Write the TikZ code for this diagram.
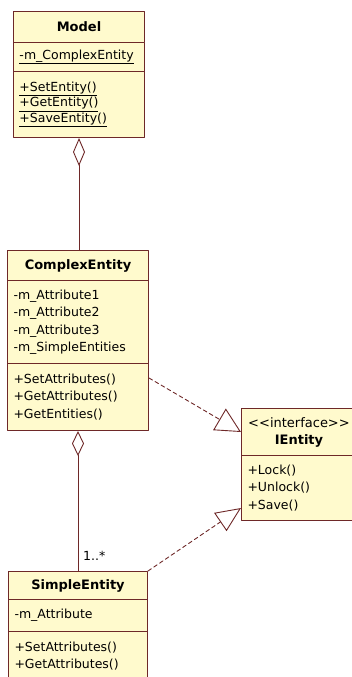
\documentclass[tikz,border=0pt]{standalone}
\usepackage{fontspec}
\setmainfont{DejaVu Sans}
\usetikzlibrary{arrows.meta}
\definecolor{umlfill}{RGB}{255,250,205}
\definecolor{umlline}{RGB}{110,40,40}

\begin{document}
\begin{tikzpicture}[x=1pt,y=-1pt,line cap=round,line join=round,
  box/.style={draw=umlline,fill=umlfill,line width=1pt,anchor=north west,inner ysep=0pt,inner xsep=6pt},
  title/.style={box,align=center,font=\fontsize{13}{17}\selectfont\bfseries},
  member/.style={box,align=left,font=\fontsize{12.5}{17.5}\selectfont},
  link/.style={draw=umlline,line width=0.9pt},
  dashlink/.style={link,dash pattern=on 4pt off 3pt}]
\useasboundingbox (0,0) rectangle (352,677);
\clip (0,0) rectangle (352,677);
% Model
\node[title,minimum width=131pt,minimum height=31pt] (modelT) at (13,11) {Model};
\node[member,text width=119pt,minimum height=29pt] (modelA) at (13,42) {\underline{-m\_ComplexEntity}};
\node[member,text width=119pt,minimum height=66pt,font=\fontsize{12.5}{15.5}\selectfont] (modelM) at (13,71)
  {\underline{+SetEntity()}\\\underline{+GetEntity()}\\\underline{+SaveEntity()}};
% ComplexEntity
\node[title,minimum width=141pt,minimum height=30pt] (cplxT) at (7,250) {ComplexEntity};
\node[member,text width=129pt,minimum height=83pt] (cplxA) at (7,280)
  {-m\_Attribute1\\-m\_Attribute2\\-m\_Attribute3\\-m\_SimpleEntities};
\node[member,text width=129pt,minimum height=67pt] (cplxM) at (7,363)
  {+SetAttributes()\\+GetAttributes()\\+GetEntities()};
% IEntity
\node[title,minimum width=115pt,minimum height=47pt] (ientT) at (241,408) {{\mdseries <{}<interface>{}>}\\IEntity};
\node[member,text width=103pt,minimum height=65pt] (ientM) at (241,455) {+Lock()\\+Unlock()\\+Save()};
% SimpleEntity
\node[title,minimum width=139pt,minimum height=28pt] (simpT) at (8,571) {SimpleEntity};
\node[member,text width=127pt,minimum height=32pt] (simpA) at (8,599) {-m\_Attribute};
\node[member,text width=127pt,minimum height=49pt] (simpM) at (8,631) {+SetAttributes()\\+GetAttributes()};
% aggregations
\draw[link,-{Diamond[open,length=28pt,width=12pt]}] (modelM.south |- cplxT.north) -- (modelM.south);
\draw[link,-{Diamond[open,length=25pt,width=12pt]}] (cplxM.south |- simpT.north) -- (cplxM.south);
\node[anchor=west,inner sep=0pt,font=\fontsize{12.5}{14}\selectfont] (many) at (83,556) {1..*};
% realizations
\draw[dashlink,-{Triangle[open,length=25pt,width=25pt]}] ([yshift=-15pt]cplxM.north east) -- (ientT.west);
\draw[dashlink,-{Triangle[open,length=25pt,width=22pt]}] (simpT.north east) -- ([yshift=13pt]ientM.south west);
\end{tikzpicture}
\end{document}
